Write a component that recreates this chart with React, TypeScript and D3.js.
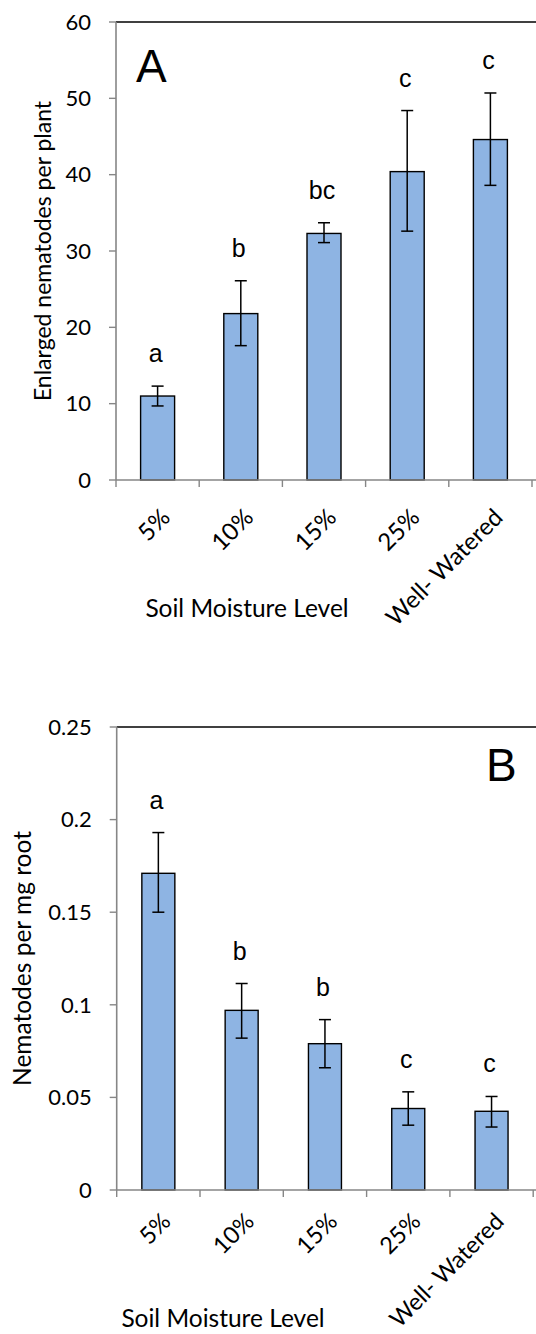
import * as d3 from "d3";

// Two stacked bar panels with SE bars and significance letters.
const categories = ["5%", "10%", "15%", "25%", "Well- Watered"];

const meansA = [11.0, 21.8, 32.3, 40.4, 44.6];
const lowA = [9.7, 17.6, 31.1, 32.6, 38.6];
const highA = [12.3, 26.1, 33.7, 48.4, 50.7];
const lettersA = ["a", "b", "bc", "c", "c"];
const ticksA = [0, 10, 20, 30, 40, 50, 60];

const meansB = [0.171, 0.097, 0.079, 0.044, 0.0425];
const lowB = [0.15, 0.082, 0.066, 0.035, 0.034];
const highB = [0.193, 0.1115, 0.092, 0.053, 0.0505];
const lettersB = ["a", "b", "b", "c", "c"];
const ticksB = [0, 0.05, 0.1, 0.15, 0.2, 0.25];

const W = 536;
const H = 1334;
const SANS = "Lato, 'Open Sans', sans-serif";
const ARIAL = "'Liberation Sans', Arial, sans-serif";
const AXIS = "#868686";
const BAR = "#8EB4E3";

type PanelProps = {
  means: number[];
  low: number[];
  high: number[];
  letters: string[];
  ticks: number[];
  fmt: (v: number) => string;
  left: number;
  step: number;
  top: number;
  bottom: number;
  barW: number;
  labelDy: number;
  labelSize: number;
  yTitle: string;
  yTitleX: number;
  yTitleSize: number;
  xTitleX: number;
  tag: string;
  tagX: number;
  tagY: number;
  tagSize: number;
};

function Panel(p: PanelProps) {
  const x = d3
    .scaleBand<string>()
    .domain(categories)
    .range([p.left, p.left + p.step * categories.length])
    .paddingInner(1 - p.barW / p.step)
    .paddingOuter((1 - p.barW / p.step) / 2);
  const y = d3
    .scaleLinear()
    .domain([0, p.ticks[p.ticks.length - 1]])
    .range([p.bottom, p.top]);
  const bw = x.bandwidth();
  const cap = 6;

  return (
    <g>
      {/* top frame line */}
      <line x1={p.left} x2={W} y1={p.top} y2={p.top} stroke="#000" strokeWidth={1.6} />

      {categories.map((c, i) => {
        const cx = x(c)! + bw / 2;
        return (
          <g key={c}>
            <rect x={x(c)} y={y(p.means[i])} width={bw} height={p.bottom - y(p.means[i])} fill={BAR} stroke="#000" strokeWidth={1.4} />
            <line x1={cx} x2={cx} y1={y(p.low[i])} y2={y(p.high[i])} stroke="#000" strokeWidth={1.5} />
            <line x1={cx - cap} x2={cx + cap} y1={y(p.high[i])} y2={y(p.high[i])} stroke="#000" strokeWidth={1.5} />
            <line x1={cx - cap} x2={cx + cap} y1={y(p.low[i])} y2={y(p.low[i])} stroke="#000" strokeWidth={1.5} />
            <text x={cx - 2} y={y(p.high[i]) - 24} textAnchor="middle" fontFamily={ARIAL} fontSize={25} fill="#000">
              {p.letters[i]}
            </text>
            <text
              transform={`translate(${cx + 8},${p.bottom + p.labelDy}) rotate(-45)`}
              textAnchor="end"
              dy="0.35em"
              fontFamily={SANS}
              fontSize={p.labelSize}
              fill="#000"
            >
              {c}
            </text>
          </g>
        );
      })}

      {/* y axis */}
      <line x1={p.left} x2={p.left} y1={p.top} y2={p.bottom} stroke={AXIS} strokeWidth={1.6} />
      {p.ticks.map((t) => (
        <g key={t}>
          <line x1={p.left - 7} x2={p.left} y1={y(t)} y2={y(t)} stroke={AXIS} strokeWidth={1.4} />
          <text x={p.left - 25} y={y(t)} dy="0.35em" textAnchor="end" fontFamily={SANS} fontSize={22} fill="#000">
            {p.fmt(t)}
          </text>
        </g>
      ))}

      {/* x axis */}
      <line x1={p.left} x2={W} y1={p.bottom} y2={p.bottom} stroke={AXIS} strokeWidth={1.6} />
      {d3.range(categories.length + 1).map((i) => (
        <line
          key={i}
          x1={p.left + i * p.step}
          x2={p.left + i * p.step}
          y1={p.bottom}
          y2={p.bottom + 7}
          stroke={AXIS}
          strokeWidth={1.4}
        />
      ))}

      <text
        transform={`translate(${p.yTitleX},${(p.top + p.bottom) / 2}) rotate(-90)`}
        textAnchor="middle"
        dy="0.35em"
        fontFamily={SANS}
        fontSize={p.yTitleSize}
        fill="#000"
      >
        {p.yTitle}
      </text>
      <text x={p.xTitleX} y={p.bottom + 137} textAnchor="middle" fontFamily={SANS} fontSize={24.5} fill="#000">
        Soil Moisture Level
      </text>
      <text x={p.tagX} y={p.tagY} fontFamily={ARIAL} fontSize={p.tagSize} fill="#000">
        {p.tag}
      </text>
    </g>
  );
}

export default function App() {
  return (
    <svg
      width={W}
      height={H}
      viewBox={`0 0 ${W} ${H}`}
      style={{ position: "absolute", left: 0, top: 0, display: "block", background: "#fff" }}
    >
      <Panel
        means={meansA}
        low={lowA}
        high={highA}
        letters={lettersA}
        ticks={ticksA}
        fmt={(v) => String(v)}
        left={116}
        step={83.2}
        top={22}
        bottom={480}
        barW={34}
        labelDy={33}
        labelSize={24}
        yTitle="Enlarged nematodes per plant"
        yTitleX={43}
        yTitleSize={23}
        xTitleX={247}
        tag="A"
        tagX={136}
        tagY={82}
        tagSize={46}
      />
      <Panel
        means={meansB}
        low={lowB}
        high={highB}
        letters={lettersB}
        ticks={ticksB}
        fmt={(v) => (v === 0 ? "0" : String(v))}
        left={116.7}
        step={83.3}
        top={727}
        bottom={1190}
        barW={33}
        labelDy={27}
        labelSize={23.5}
        yTitle="Nematodes per mg root"
        yTitleX={22}
        yTitleSize={24.5}
        xTitleX={223}
        tag="B"
        tagX={486}
        tagY={781}
        tagSize={46}
      />
    </svg>
  );
}
